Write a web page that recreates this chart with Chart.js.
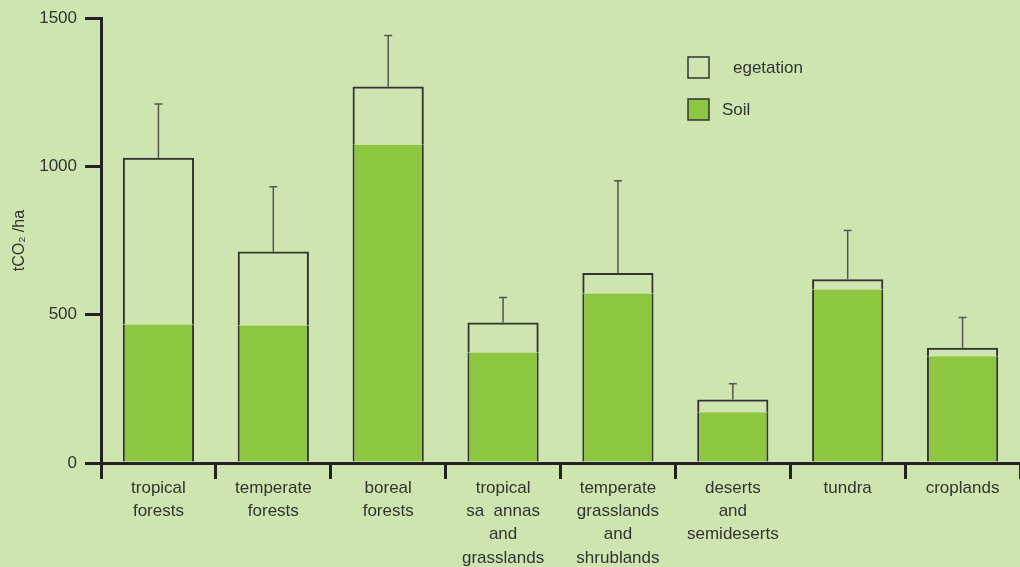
<!DOCTYPE html>
<html>
<head>
<meta charset="utf-8">
<script src="https://cdn.jsdelivr.net/npm/chart.js@4/dist/chart.umd.min.js"></script>
<style>
    html, body { margin: 0; padding: 0; background: #cfe5b0; }
    #wrap { width: 1020px; height: 567px; }
</style>
</head>
<body>
<div id="wrap"><canvas id="grafico"></canvas></div>
<script>
// datos
const categorias = [
    ['tropical', 'forests'],
    ['temperate', 'forests'],
    ['boreal', 'forests'],
    ['tropical', 'sa  annas', 'and', 'grasslands'],
    ['temperate', 'grasslands', 'and', 'shrublands'],
    ['deserts', 'and', 'semideserts'],
    ['tundra'],
    ['croplands']
];
const suelo = [467, 464, 1073, 373, 572, 171, 585, 360];
const vegetacion = [562, 249, 197, 101, 69, 43, 35, 29];
const errorSup = [1211, 932, 1442, 558, 952, 267, 784, 491];
const ticksY = [0, 500, 1000, 1500];

const colorVerde = '#8dc63f';
const colorFondo = '#cfe5b0';
const colorTexto = '#333333';
const fuente = '"Liberation Sans", Arial, sans-serif';

// barras de error encima del total
const barrasError = {
    id: 'barrasError',
    afterDatasetsDraw(chart) {
        const ctx = chart.ctx;
        const x = chart.scales.x;
        const y = chart.scales.y;
        ctx.save();
        ctx.strokeStyle = '#555555';
        ctx.lineWidth = 1.5;
        errorSup.forEach((v, i) => {
            const px = x.getPixelForValue(i);
            const total = suelo[i] + vegetacion[i];
            const y0 = y.getPixelForValue(total);
            const y1 = y.getPixelForValue(v);
            ctx.beginPath();
            ctx.moveTo(px, y0);
            ctx.lineTo(px, y1);
            ctx.moveTo(px - 4, y1);
            ctx.lineTo(px + 4, y1);
            ctx.stroke();
        });
        ctx.restore();
    }
};

// leyenda propia
const leyenda = {
    id: 'leyenda',
    afterDraw(chart) {
        const ctx = chart.ctx;
        ctx.save();
        ctx.lineWidth = 1.5;
        ctx.strokeStyle = '#333333';
        ctx.fillStyle = colorFondo;
        ctx.fillRect(688, 57, 21, 21);
        ctx.strokeRect(688, 57, 21, 21);
        ctx.fillStyle = colorVerde;
        ctx.fillRect(688, 99, 21, 21);
        ctx.strokeRect(688, 99, 21, 21);
        ctx.fillStyle = colorTexto;
        ctx.font = '17px ' + fuente;
        ctx.textBaseline = 'middle';
        ctx.fillText('egetation', 733, 68);
        ctx.fillText('Soil', 722, 110);
        ctx.restore();
    }
};

let CanvasG = document.getElementById('grafico').getContext('2d');
let datos = {
    labels: categorias,
    datasets: [{
            label: 'Soil',
            data: suelo,
            backgroundColor: colorVerde,
            borderColor: '#333333',
            borderWidth: { left: 2, right: 2, top: 0, bottom: 0 },
            borderSkipped: false
        },
        {
            label: ' egetation',
            data: vegetacion,
            backgroundColor: 'rgba(0,0,0,0)',
            borderColor: '#333333',
            borderWidth: { left: 2, right: 2, top: 2, bottom: 0 },
            borderSkipped: false
        }
    ]
};
let opciones = {
    responsive: true,
    maintainAspectRatio: false,
    animation: false,
    layout: { padding: { top: 17, right: 0, bottom: 0, left: 0 } },
    plugins: {
        legend: { display: false },
        tooltip: { enabled: false }
    },
    datasets: {
        bar: { categoryPercentage: 1, barPercentage: 0.62 }
    },
    scales: {
        x: {
            stacked: true,
            offset: true,
            border: { display: true, color: '#222222', width: 3 },
            grid: {
                offset: true,
                drawOnChartArea: false,
                drawTicks: true,
                tickLength: 16,
                color: c => c.index >= categorias.length ? 'rgba(0,0,0,0)' : '#222222',
                lineWidth: 3
            },
            ticks: {
                color: colorTexto,
                padding: -2,
                maxRotation: 0,
                autoSkip: false,
                font: { family: fuente, size: 17, lineHeight: 1.36 }
            },
            afterFit(scale) { scale.height = 104; }
        },
        y: {
            stacked: true,
            min: 0,
            max: 1500,
            afterBuildTicks(scale) { scale.ticks = ticksY.map(v => ({ value: v })); },
            border: { display: true, color: '#222222', width: 3 },
            grid: {
                drawOnChartArea: false,
                drawTicks: true,
                tickLength: 16,
                color: '#222222',
                lineWidth: 3
            },
            ticks: {
                color: colorTexto,
                padding: 8,
                callback: v => String(v),
                font: { family: fuente, size: 17 }
            },
            title: {
                display: true,
                text: 'tCO₂ /ha',
                color: colorTexto,
                padding: { top: 10, bottom: 0 },
                font: { family: fuente, size: 16 }
            },
            afterFit(scale) { scale.width = 101; }
        }
    }
};
let G1 = new Chart(CanvasG, {
    type: 'bar',
    data: datos,
    options: opciones,
    plugins: [barrasError, leyenda]
});
</script>
</body>
</html>
